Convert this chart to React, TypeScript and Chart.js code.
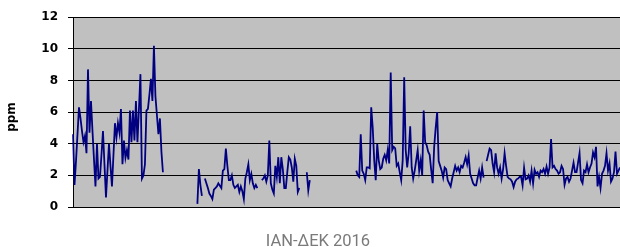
import React, { useEffect, useRef } from "react";
import { Chart, registerables } from "chart.js";

Chart.register(...registerables);

// Daily values, 2016 (366 days). Gaps = missing measurements.
const SEG_JAN_FEB: (number | null)[] = [
  4.6, 1.4, 2.9, 4.6, 6.3, 5.6, 4.8, 4.1, 4.5, 3.4,
  8.7, 4.7, 6.7, 4.8, 3.0, 1.3, 4.0, 1.8, 1.9, 3.3,
  4.8, 2.7, 0.6, 2.3, 4.0, 2.6, 1.3, 3.3, 5.3, 4.4,
  5.3, 4.7, 6.2, 2.7, 4.2, 3.1, 3.6, 3.0, 6.1, 4.1,
  6.1, 4.2, 6.7, 4.1, 6.2, 8.4, 1.8, 2.0, 2.7, 6.1,
  6.2, 7.1, 8.1, 6.7, 10.2, 7.0, 5.8, 4.6, 5.6, 3.5,
  2.2,
];
const GAP_1_DAYS = 22;
const SEG_SPRING: (number | null)[] = [
  0.2, 2.4, 1.4, 0.7, null, 1.8, 1.5, 1.2, 0.85, 0.7,
  0.5, 1.1, 1.2, 1.3, 1.5, 1.35, 1.2, 2.3, 2.4, 3.7,
  2.6, 1.7, 1.7, 2.0, 1.4, 1.2, 1.3, 1.4, 0.95, 1.3,
  1.0, 0.5, 1.8, 2.2, 2.7, 1.7, 2.1, 1.5, 1.2, 1.4,
  1.2, null, null, 1.7, 1.8, 2.0, 1.6, 2.0, 4.2, 1.5,
  1.1, 0.85, 2.6, 1.9, 3.15, 1.5, 3.15, 2.4, 1.2, 1.2,
  2.2, 3.15, 3.0, 2.5, 1.6, 3.05, 2.6, 0.95, 1.2, null,
  null, null, null, 2.2, 1.05, 1.7,
];
const GAP_2_DAYS = 30;
const SEG_AUTUMN: (number | null)[] = [
  2.3, 2.0, 1.9, 4.6, 2.3, 2.1, 1.7, 2.5, 2.5, 2.45,
  6.3, 5.0, 2.95, 1.7, 4.0, 2.95, 2.4, 2.5, 3.05, 3.3,
  2.95, 3.6, 2.75, 8.5, 3.6, 3.8, 3.7, 2.6, 2.75, 2.2,
  1.7, 2.95, 8.2, 3.6, 2.5, 3.4, 5.1, 2.5, 1.8, 2.3,
  2.95, 3.6, 2.3, 2.95, 2.0, 6.1, 4.1, 3.9, 3.5, 3.3,
  2.36, 1.5, 3.8, 5.0, 6.0, 2.9, 2.6, 2.3, 1.85, 2.5,
  2.4, 1.7, 1.5, 1.3, 1.8, 2.2, 2.6, 2.3, 2.5, 2.2,
  2.6, 2.5, 2.8, 3.15, 2.7, 3.25, 2.1, 1.8, 1.5, 1.37,
  1.37, 1.85, 2.3, 1.8, 2.5, 1.85, null, 2.9, 3.3, 3.7,
  3.6, 2.75, 2.2, 3.4, 2.5, 2.1, 2.5, 1.8, 2.4, 3.4,
  2.6, 1.9, 1.8, 1.75, 1.6, 1.26, 1.6, 1.75, 1.8, 1.9,
  1.9, 1.37, 2.48, 1.75, 1.8, 2.0, 1.6, 2.3, 1.5, 2.35,
  2.1, 2.2, 1.9, 2.3, 2.2, 2.4, 2.1, 2.55, 2.1, 2.5,
  4.3, 2.5, 2.6, 2.4, 2.3, 2.1, 2.2, 2.6, 2.4, 1.4,
  1.8, 1.9, 1.6, 1.8, 2.3, 2.8, 2.2, 2.2, 2.8, 3.4,
  1.7, 1.5, 2.3, 2.2, 2.7, 2.2, 2.5, 2.75, 3.45, 3.15,
  3.8, 1.3, 1.9, 1.2, 2.1, 2.3, 2.6, 3.4, 2.3, 2.75,
  1.6, 1.8, 2.2, 3.5, 2.1, 2.3, 2.5,
];

const Y_TICKS = [0, 2, 4, 6, 8, 10, 12];
const Y_TITLE = "ppm";
const X_TITLE = "ΙΑΝ-ΔΕΚ 2016";

const VALUES: (number | null)[] = [
  ...SEG_JAN_FEB,
  ...new Array(GAP_1_DAYS).fill(null),
  ...SEG_SPRING,
  ...new Array(GAP_2_DAYS).fill(null),
  ...SEG_AUTUMN,
];

const LABELS: string[] = VALUES.map((_, i) => {
  const d = new Date(Date.UTC(2016, 0, 1 + i));
  return `${d.getUTCDate()}/${d.getUTCMonth() + 1}/2016`;
});

const bgPlugin = {
  id: "plotBg",
  beforeDraw(chart: any) {
    const { ctx, chartArea } = chart;
    ctx.save();
    ctx.fillStyle = "#C0C0C0";
    ctx.fillRect(chartArea.left, chartArea.top, chartArea.right - chartArea.left, chartArea.bottom - chartArea.top);
    ctx.restore();
  },
  afterDraw(chart: any) {
    const { ctx } = chart;
    ctx.save();
    ctx.fillStyle = "#000000";
    ctx.font = "bold 12px 'DejaVu Sans'";
    ctx.textAlign = "center";
    ctx.textBaseline = "middle";
    ctx.translate(12, 117);
    ctx.rotate(-Math.PI / 2);
    ctx.fillText(Y_TITLE, 0, 0);
    ctx.restore();

    ctx.save();
    ctx.fillStyle = "#7a7a7a";
    ctx.font = "16.5px Roboto";
    ctx.textAlign = "center";
    ctx.textBaseline = "alphabetic";
    ctx.fillText(X_TITLE, 318, 245.5);
    ctx.restore();
  },
};

export default function App() {
  const ref = useRef<HTMLCanvasElement | null>(null);
  useEffect(() => {
    if (!ref.current) return;
    const chart = new Chart(ref.current, {
      type: "line",
      data: {
        labels: LABELS,
        datasets: [
          {
            data: VALUES,
            borderColor: "#000080",
            borderWidth: 1.8,
            pointRadius: 0,
            tension: 0,
            spanGaps: false,
          },
        ],
      },
      options: {
        animation: false,
        responsive: false,
        devicePixelRatio: 1,
        layout: { padding: { top: 16, left: 0, right: 0, bottom: 0 } },
        plugins: { legend: { display: false }, tooltip: { enabled: false } },
        scales: {
          x: {
            type: "category",
            grid: { display: false },
            border: { display: false },
            ticks: { display: false },
            afterFit: (s: any) => {
              s.height = 40;
            },
          },
          y: {
            min: 0,
            max: 12,
            afterBuildTicks: (s: any) => {
              s.ticks = Y_TICKS.map((v) => ({ value: v }));
            },
            ticks: {
              color: "#000000",
              padding: 10,
              font: { family: "'DejaVu Sans'", size: 12, weight: "bold" },
            },
            grid: { color: "#000000", lineWidth: 1, tickLength: 5 },
            border: { display: true, color: "#000000", width: 1 },
            afterFit: (s: any) => {
              s.width = 73;
            },
          },
        },
      },
      plugins: [bgPlugin],
    });
    return () => chart.destroy();
  }, []);
  return (
    <div style={{ position: "fixed", left: 0, top: 0, width: 620, height: 247, background: "#ffffff" }}>
      <canvas ref={ref} width={620} height={247} style={{ display: "block" }} />
    </div>
  );
}
